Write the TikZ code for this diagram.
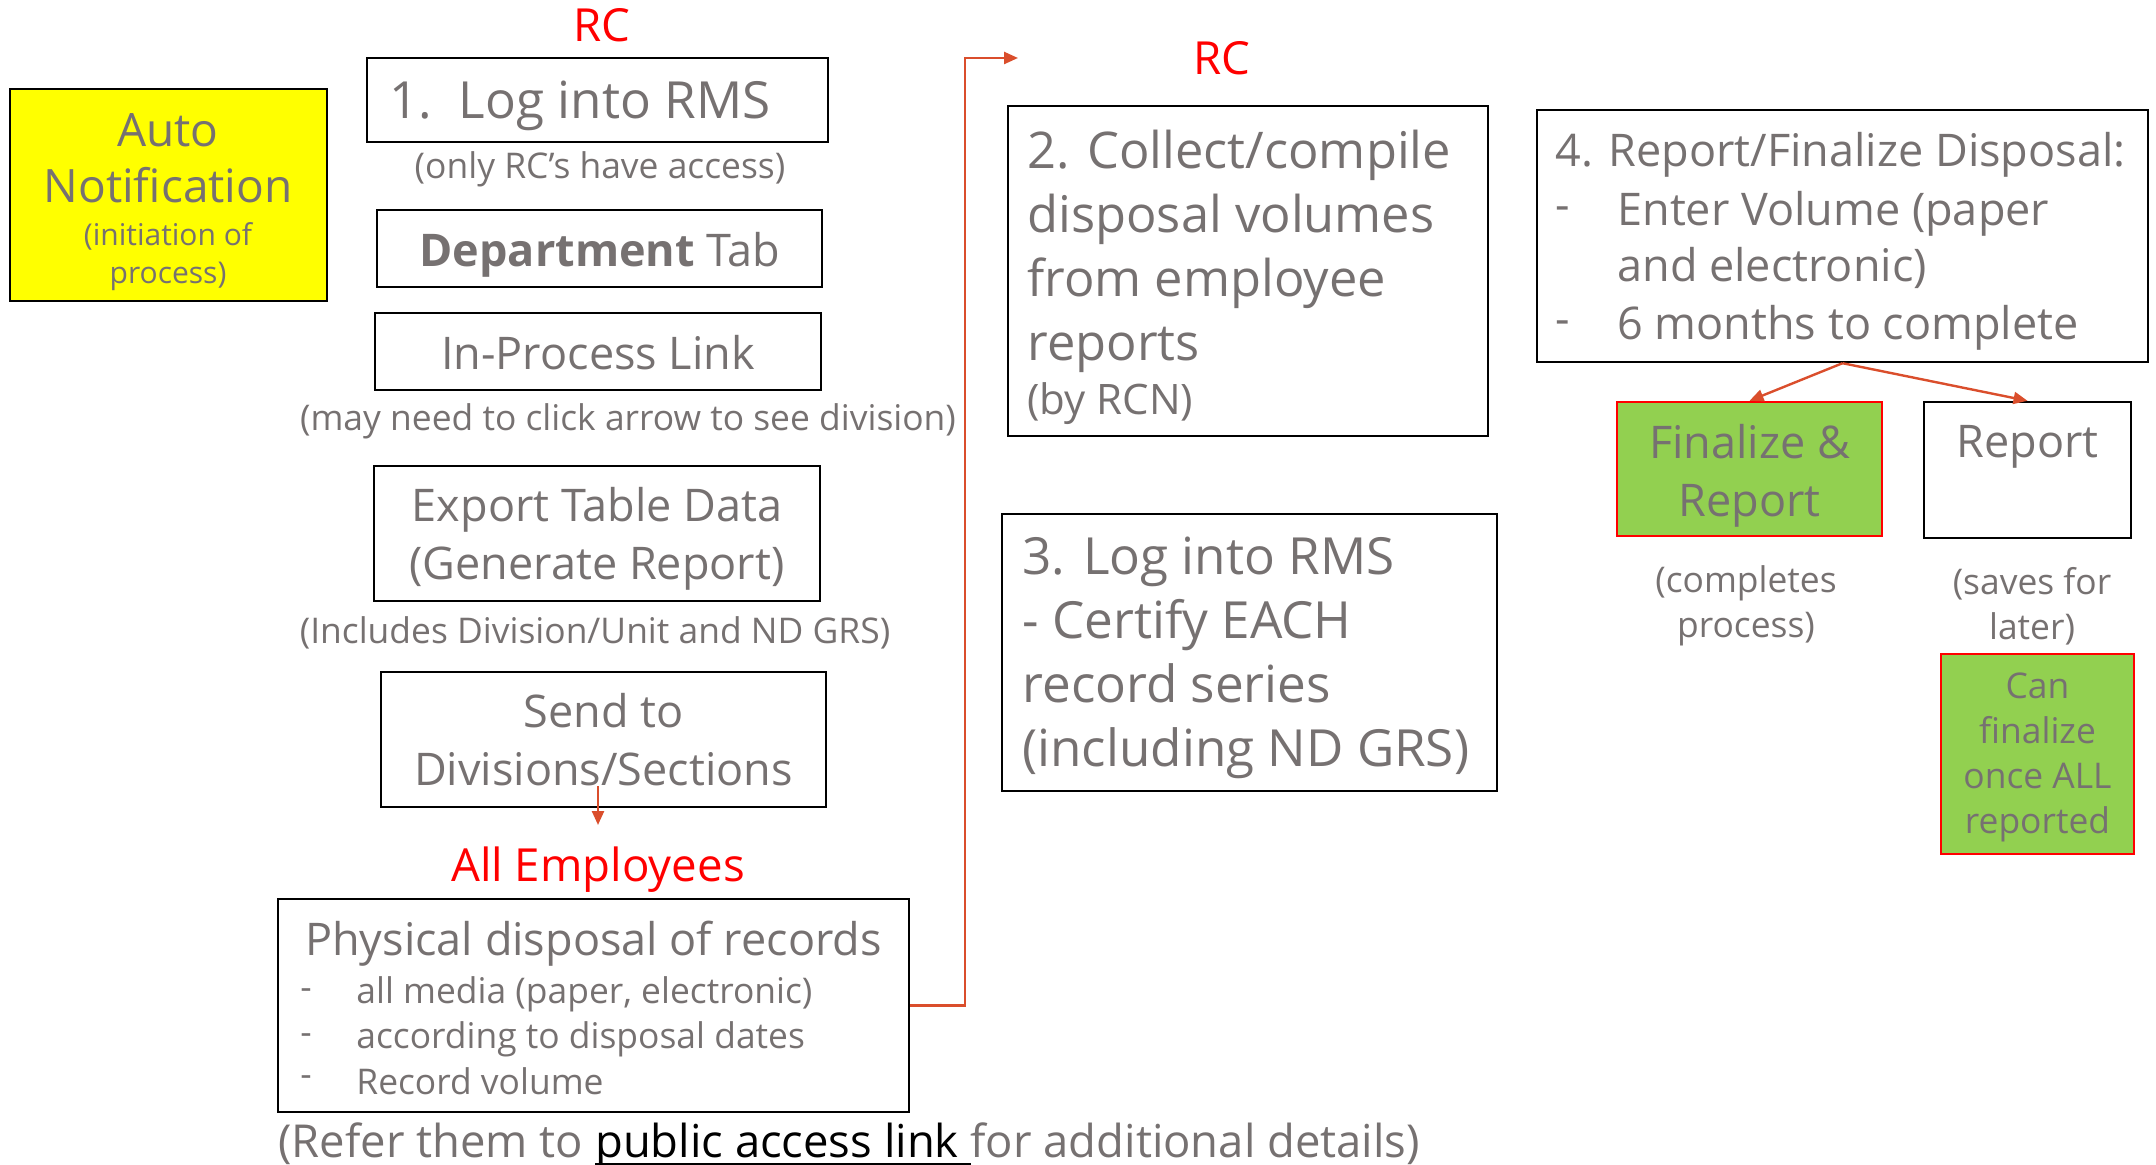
\documentclass[tikz,border=0pt]{standalone}
\usepackage{fontspec}
\setmainfont{Open Sans}
\usetikzlibrary{arrows.meta}
\definecolor{txt}{HTML}{767171}
\definecolor{conncol}{RGB}{218,78,44}
\definecolor{grn}{HTML}{92D050}
\definecolor{redc}{HTML}{FF0000}
\definecolor{yel}{HTML}{FFFF00}
\newcommand\szBig{\fontsize{25.6}{32}\selectfont}
\newcommand\szMed{\fontsize{22.5}{29}\selectfont}
\newcommand\szRed{\fontsize{22.8}{29}\selectfont}
\newcommand\szSm{\fontsize{17.7}{22.5}\selectfont}
\newcommand\szXs{\fontsize{15}{19}\selectfont}
\newcommand\myul[1]{\setbox0\hbox{#1}\rlap{\rule[-3.5pt]{\wd0}{1.1pt}}\box0}
\begin{document}
\begin{tikzpicture}[x=0.5pt,y=-0.5pt,
  box/.style={draw=black, line width=1.2pt, inner sep=0pt},
  lbl/.style={inner sep=0pt, text=txt, align=center, yshift=-2.5pt},
  redlbl/.style={inner sep=0pt, text=redc, font=\szRed, yshift=-2pt},
  conn/.style={draw=conncol, line width=1.2pt, -{Triangle[length=7pt,width=6pt]}}]
\useasboundingbox (0,0) rectangle (2156,1165);

% left column
\node[box, fill=yel, minimum width=158.5pt, minimum height=106pt] (auto) at (168.5,195) {};
\node[lbl, font=\fontsize{23}{28}\selectfont] (autot) at (168,153) {Auto\\Notification};
\node[lbl, font=\szXs] (autos) at (168,252) {(initiation of\\process)};

\node[redlbl] (rc1) at (602,21) {RC};
\node[box, minimum width=230.5pt, minimum height=42pt] (b1) at (597.5,100) {};
\node[lbl, font=\szBig, anchor=west] (b1t) at (389,101) {1.\ \ Log into RMS};
\node[lbl, font=\szSm] (b1s) at (600,164) {(only RC’s have access)};

\node[box, minimum width=222.5pt, minimum height=38.5pt] (dept) at (599.5,248.5) {};
\node[lbl, font=\szMed] (deptt) at (600,249.5) {\textbf{Department} Tab};
\node[box, minimum width=223pt, minimum height=38.5pt] (inproc) at (598,351.5) {};
\node[lbl, font=\szMed] (inproct) at (598,347.5) {In-Process Link};
\node[lbl, font=\szSm] (inprocs) at (628,416) {(may need to click arrow to see division)};

\node[box, minimum width=223pt, minimum height=67.5pt] (export) at (597,533.5) {};
\node[lbl, font=\szMed] (exportt) at (597,533.5) {Export Table Data\\(Generate Report)};
\node[lbl, font=\szSm] (exports) at (595,628) {(Includes Division/Unit and ND GRS)};

\node[box, minimum width=222.5pt, minimum height=67.5pt] (send) at (603.5,739.5) {};
\node[lbl, font=\szMed] (sendt) at (603.5,734.5) {Send to\\Divisions/Sections};

\node[redlbl] (allemp) at (598,866) {All Employees};

\node[box, minimum width=315.5pt, minimum height=106.5pt] (phys) at (593.5,1005.5) {};
\node[lbl, font=\szMed] (physt) at (593.5,939) {Physical disposal of records};
\node[lbl, font=\szSm, anchor=west] (pd1) at (300,989) {-};
\node[lbl, font=\szSm, anchor=west] (pd2) at (300,1034) {-};
\node[lbl, font=\szSm, anchor=west] (pd3) at (300,1076) {-};
\node[lbl, font=\szSm, anchor=west] (pi1) at (356,989) {all media (paper, electronic)};
\node[lbl, font=\szSm, anchor=west] (pi2) at (356,1034) {according to disposal dates};
\node[lbl, font=\szSm, anchor=west] (pi3) at (356,1076) {Record volume};

\node[lbl, font=\fontsize{22.7}{29}\selectfont, anchor=west] (refer) at (278,1141) {(Refer them to \textcolor{black}{\myul{public access link }}for additional details)};

% middle column
\node[redlbl] (rc2) at (1222,54) {RC};
\node[box, minimum width=240pt, minimum height=165pt] (b2) at (1248,271) {};
\node[lbl, font=\fontsize{25.3}{32}\selectfont, align=left, anchor=west] (b2t) at (1027,246) {2. Collect/compile\\disposal volumes\\from employee\\reports};
\node[lbl, font=\fontsize{21}{26}\selectfont, anchor=west] (b2s) at (1027,399) {(by RCN)};

\node[box, minimum width=247.5pt, minimum height=138.5pt] (b3) at (1249.5,652.5) {};
\node[lbl, font=\szBig, align=left, anchor=west] (b3t) at (1022,653) {3. Log into RMS\\- Certify EACH\\record series\\(including ND GRS)};

% right column
\node[box, minimum width=305.5pt, minimum height=126pt] (b4) at (1842.5,236) {};
\node[lbl, font=\szMed, anchor=west] (b4t) at (1555,150) {4. Report/Finalize Disposal:};
\node[lbl, font=\szMed, anchor=west] (b4d1) at (1555,209) {-};
\node[lbl, font=\szMed, anchor=west] (b4d2) at (1555,323) {-};
\node[lbl, font=\szMed, anchor=west] (b4i1) at (1617,209) {Enter Volume (paper};
\node[lbl, font=\szMed, anchor=west] (b4i1b) at (1617,263) {and electronic)};
\node[lbl, font=\szMed, anchor=west] (b4i2) at (1617,323) {6 months to complete};

\node[box, draw=redc, fill=grn, minimum width=132.5pt, minimum height=67pt] (fin) at (1749.5,469) {};
\node[lbl, font=\szMed] (fint) at (1749.5,471) {Finalize \&\\Report};
\node[box, minimum width=103.5pt, minimum height=68pt] (rep) at (2027.5,470) {};
\node[lbl, font=\szMed] (rept) at (2027.5,442) {Report};
\node[lbl, font=\szSm] (fins) at (1746,601) {(completes\\process)};
\node[lbl, font=\szSm] (reps) at (2032,601) {(saves for\\later)};
\node[box, draw=redc, fill=grn, minimum width=96.5pt, minimum height=100pt] (can) at (2037.5,754) {};
\node[lbl, font=\szSm] (cant) at (2037.5,752) {Can\\finalize\\once ALL\\reported};

% connectors
\coordinate (sendarr) at (598,786);
\coordinate (emparr) at (598,825);
\draw[conn] (sendarr) -- (emparr);
\coordinate (rcarr) at (1018,58);
\draw[conn] (phys.east) -- ++(55,0) |- (rcarr);
\draw[conn] (b4.south) -- (fin.north);
\draw[conn] (b4.south) -- (rep.north);
\end{tikzpicture}
\end{document}
